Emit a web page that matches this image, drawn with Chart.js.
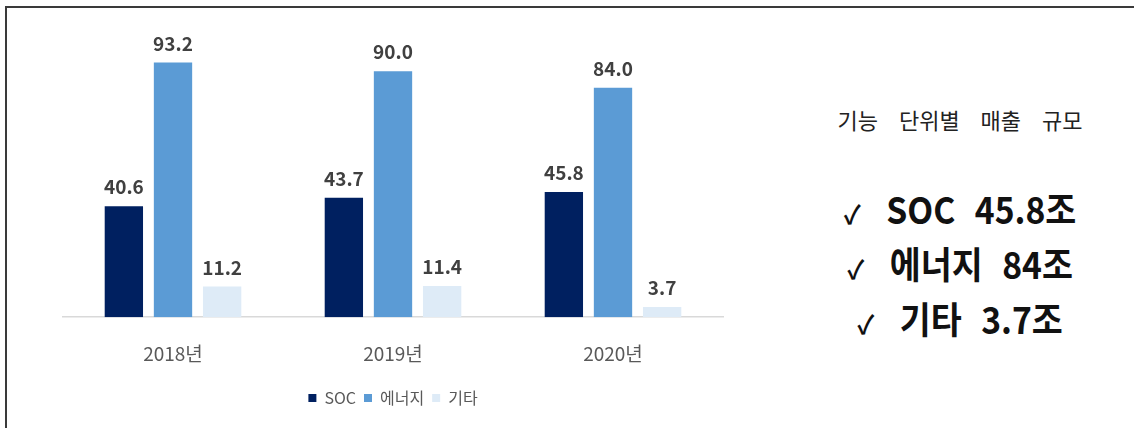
<!DOCTYPE html>
<html>
<head>
<meta charset="utf-8">
<script src="https://cdn.jsdelivr.net/npm/chart.js@4.4.0/dist/chart.umd.min.js"></script>
<style>
  body { margin: 0; background: #fff; font-family: "Noto Sans CJK KR", sans-serif; }
  #page { position: relative; width: 1134px; height: 428px; overflow: hidden; }
  #frame { position: absolute; left: 5px; top: 6px; width: 1200px; height: 500px; border-top: 2px solid #3a3a3a; border-left: 2px solid #3a3a3a; }
  #chartBox { position: absolute; left: 0; top: 0; width: 780px; height: 428px; }
  #side { position: absolute; left: 800px; top: 0; width: 320px; text-align: center; color: #111; }
  #side .title { position: absolute; left: 0; width: 320px; top: 103px; font-size: 22px; word-spacing: 16px; color: #222; }
  #side .item { position: absolute; left: 0; width: 320px; font-size: 37px; line-height: 44px; font-weight: bold; word-spacing: 13px; white-space: nowrap; transform: scaleX(0.91); }
  #side .chk { font-weight: bold; font-size: 26px; margin-right: 28px; }
</style>
</head>
<body>
<div id="page">
  <div id="frame"></div>
  <div id="chartBox"><canvas id="salesChart"></canvas></div>
  <div id="side">
    <div class="title">기능 단위별 매출 규모</div>
    <div class="item" style="top:186px"><span class="chk">✓</span>SOC 45.8조</div>
    <div class="item" style="top:241px"><span class="chk">✓</span>에너지 84조</div>
    <div class="item" style="top:296px"><span class="chk">✓</span>기타 3.7조</div>
  </div>
</div>
<script>
const years = ['2018년', '2019년', '2020년']
const socSales = [40.6, 43.7, 45.8]
const energySales = [93.2, 90.0, 84.0]
const etcSales = [11.2, 11.4, 3.7]

// value labels above each bar
const barLabels = {
    id: 'barLabels',
    afterDatasetsDraw(chart) {
        const ctx = chart.ctx
        ctx.save()
        ctx.font = 'bold 19px "Noto Sans CJK KR", sans-serif'
        ctx.fillStyle = '#404040'
        ctx.textAlign = 'center'
        ctx.textBaseline = 'alphabetic'
        chart.data.datasets.forEach((ds, i) => {
            chart.getDatasetMeta(i).data.forEach((bar, j) => {
                ctx.fillText(ds.data[j].toFixed(1), bar.x, bar.y - 12)
            })
        })
        ctx.restore()
    }
}

const salesCtx = document.getElementById('salesChart').getContext('2d')
new Chart(salesCtx, {
    type: 'bar',
    data: {
        labels: years,
        datasets: [
            { label: 'SOC', data: socSales, backgroundColor: '#002060' },
            { label: '에너지', data: energySales, backgroundColor: '#5B9BD5' },
            { label: '기타', data: etcSales, backgroundColor: '#DEEBF7' }
        ]
    },
    options: {
        responsive: true,
        maintainAspectRatio: false,
        animation: false,
        layout: { padding: { left: 63, right: 57, top: 44, bottom: 12 } },
        datasets: { bar: { barPercentage: 0.78, categoryPercentage: 0.67 } },
        scales: {
            x: {
                grid: { display: false },
                border: { display: true, color: '#d9d9d9', width: 1.5 },
                ticks: { color: '#595959', padding: 17, font: { size: 19, family: '"Noto Sans CJK KR", sans-serif' } }
            },
            y: { display: false, min: 0, max: 100 }
        },
        plugins: {
            tooltip: { enabled: false },
            legend: {
                position: 'bottom',
                labels: {
                    boxWidth: 8, boxHeight: 8, padding: 8, color: '#595959',
                    font: { size: 16, family: '"Noto Sans CJK KR", sans-serif' }
                }
            }
        }
    },
    plugins: [barLabels]
})
</script>
</body>
</html>
